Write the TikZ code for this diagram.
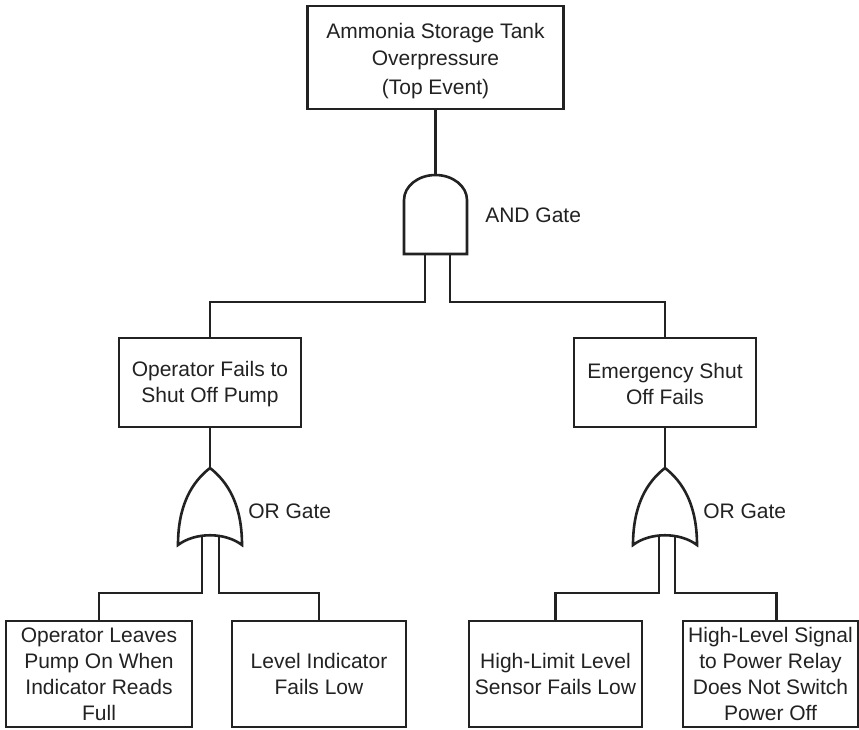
\documentclass[tikz,border=0pt]{standalone}
\usepackage{fontspec}
\setmainfont{Liberation Sans}
\usetikzlibrary{calc}
\definecolor{ink}{HTML}{222222}
\begin{document}
\begin{tikzpicture}[x=1pt,y=-1pt,
  line width=2.6pt, line join=miter, draw=ink,
  event/.style={draw=ink, line width=2.6pt, rectangle, align=center,
    inner sep=0pt, text=ink, font=\fontsize{21}{26}\selectfont},
  gatelabel/.style={anchor=base west, inner sep=0pt, text=ink,
    font=\fontsize{21}{26}\selectfont},
  andgate/.pic={
    \draw[ink] (-31.5,79) -- (-31.5,25)
      .. controls (-31.5,11.2) and (-17.4,0) .. (0,0)
      .. controls (17.4,0) and (31.5,11.2) .. (31.5,25)
      -- (31.5,79) -- cycle;
  },
  orgate/.pic={
    \draw[ink] (0,0) .. controls (-18,14) and (-32,37) .. (-32,77)
      .. controls (-15,64) and (15,64) .. (32,77)
      .. controls (32,37) and (18,14) .. cycle;
  }
]
\fill[white] (0,0) rectangle (859,729);
\useasboundingbox (0,0) rectangle (859,729);

% events
\node[event, minimum width=256pt, minimum height=103pt] (top) at (435.5,57.5)
  {\rule{0pt}{22pt}Ammonia Storage Tank\\[1pt]Overpressure\\[3pt](Top Event)};
\node[event, minimum width=182pt, minimum height=89pt] (m1) at (210,382.5)
  {\rule{0pt}{18pt}Operator Fails to\\Shut Off Pump};
\node[event, minimum width=182pt, minimum height=89pt] (m2) at (665,382.5)
  {\rule{0pt}{18pt}Emergency Shut\\Off Fails};
\node[event, minimum width=186pt, minimum height=106pt] (b1) at (99,674)
  {Operator Leaves\\Pump On When\\Indicator Reads\\Full};
\node[event, minimum width=174pt, minimum height=106pt] (b2) at (319,674)
  {Level Indicator\\Fails Low};
\node[event, minimum width=173pt, minimum height=106pt] (b3) at (555.5,674)
  {High-Limit Level\\Sensor Fails Low};
\node[event, minimum width=175pt, minimum height=106pt] (b4) at (770.5,674)
  {High-Level Signal\\to Power Relay\\Does Not Switch\\Power Off};

% gates
\coordinate (andg) at (435.5,175);
\coordinate (orL) at (210,468);
\coordinate (orR) at (665,468);
\pic at (andg) {andgate};
\pic at (orL) {orgate};
\pic at (orR) {orgate};

\node[gatelabel] (andlab) at (484,222) {AND Gate};
\node[gatelabel] (orLlab) at (247,518.5) {OR Gate};
\node[gatelabel] (orRlab) at (702,518.5) {OR Gate};

% connectors
\draw (top.south) -- (andg);
\draw ($(andg)+(-10.5,79)$) -- ++(0,48) -| (m1.north);
\draw ($(andg)+(14.5,79)$) -- ++(0,48) -| (m2.north);

\draw (m1.south) -- (orL);
\draw ($(orL)+(-8,68)$) -- ++(0,57) -| (b1.north);
\draw ($(orL)+(9,68)$) -- ++(0,57) -| (b2.north);

\draw (m2.south) -- (orR);
\draw ($(orR)+(-6,68)$) -- ++(0,57) -| (b3.north);
\draw ($(orR)+(10,68)$) -- ++(0,57) -| ($(b4.north)+(6,0)$);
\end{tikzpicture}
\end{document}
